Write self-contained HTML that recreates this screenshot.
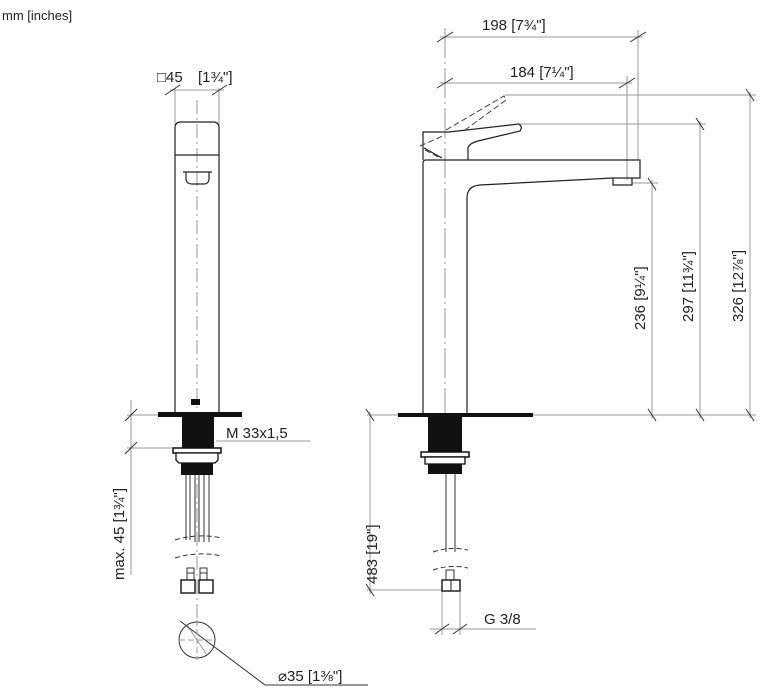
<!DOCTYPE html>
<html><head><meta charset="utf-8"><style>
html,body{margin:0;padding:0;background:#fff;}
svg{display:block;}
text{font-family:"Liberation Sans",sans-serif;fill:#222;}
</style></head><body>
<svg width="761" height="697" viewBox="0 0 761 697" xmlns="http://www.w3.org/2000/svg">
<text x="2" y="20" font-size="13">mm [inches]</text>

<!-- ===== LEFT VIEW ===== -->
<g stroke="#999" stroke-width="1" fill="none">
  <line x1="175" y1="88" x2="175" y2="125"/>
  <line x1="219" y1="88" x2="219" y2="125"/>
  <line x1="170" y1="90" x2="224" y2="90"/>
  <line x1="197" y1="100" x2="197" y2="620" stroke-dasharray="14,4,2,4"/>
  <line x1="127" y1="415" x2="158" y2="415"/>
  <line x1="127" y1="448" x2="176" y2="448"/>
  <line x1="131" y1="400" x2="131" y2="575"/>
  <line x1="216" y1="441" x2="310" y2="441"/>
</g>
<g stroke="#333" stroke-width="1">
  <line x1="165" y1="95" x2="180" y2="85"/>
  <line x1="212" y1="95" x2="227" y2="85"/>
  <line x1="125" y1="421" x2="137" y2="409"/>
  <line x1="125" y1="454" x2="137" y2="442"/>
</g>
<text x="157" y="82" font-size="15">□45</text>
<text x="198" y="82" font-size="15">[1¾"]</text>
<text x="226" y="438" font-size="15">M 33x1,5</text>
<text transform="translate(124,580) rotate(-90)" font-size="15">max. 45 [1¾"]</text>

<g stroke="#222" stroke-width="1.2" fill="none">
  <path d="M175,415 V128 Q175,122 181,122 H213 Q219,122 219,128 V415"/>
  <line x1="175" y1="155" x2="219" y2="155"/>
  <path d="M183,172 H212 M186,172 V180 Q187,184 192,184 H204 Q208,184 209,180 V172"/>
</g>
<rect x="191" y="399" width="9" height="6" fill="#111"/>
<rect x="158" y="412" width="84" height="5" fill="#111"/>
<rect x="182" y="417" width="32" height="31" fill="#111"/>
<rect x="173" y="448" width="48" height="5" fill="#fff" stroke="#111" stroke-width="1.5"/>
<path d="M176,453 H218 V460 L215,463 H179 L176,460 Z" fill="#fff" stroke="#111" stroke-width="1.3"/>
<rect x="181" y="463" width="32" height="12" fill="#111"/>
<g stroke="#333" stroke-width="1" fill="none">
  <line x1="186" y1="475" x2="186" y2="540"/><line x1="190" y1="475" x2="190" y2="540"/>
  <line x1="195" y1="475" x2="195" y2="542"/><line x1="199" y1="475" x2="199" y2="542"/>
  <line x1="204" y1="475" x2="204" y2="542"/><line x1="209" y1="475" x2="209" y2="542"/>
  <path d="M175,540 Q197,533 222,538" stroke-dasharray="5,3"/>
  <path d="M175,558 Q197,551 222,556" stroke-dasharray="5,3"/>
  <rect x="187" y="568" width="7" height="12"/><rect x="200" y="568" width="7" height="12"/>
  <line x1="187" y1="573" x2="194" y2="573"/><line x1="200" y1="573" x2="207" y2="573"/>
  <circle cx="197" cy="640" r="18"/>
  <line x1="187" y1="625" x2="207" y2="655" stroke="#999"/>
  <line x1="180" y1="621" x2="265" y2="685"/>
  <line x1="265" y1="685" x2="368" y2="685"/>
</g>
<rect x="181" y="580" width="14" height="13" fill="#fff" stroke="#222" stroke-width="1.5"/>
<rect x="199" y="580" width="14" height="13" fill="#fff" stroke="#222" stroke-width="1.5"/>
<g stroke="#999" stroke-width="1"><line x1="179" y1="640" x2="215" y2="640" stroke-dasharray="6,3"/><line x1="197" y1="620" x2="197" y2="660" stroke-dasharray="6,3"/></g>
<text x="278" y="681" font-size="15">⌀35 [1⅜"]</text>

<!-- ===== RIGHT VIEW ===== -->
<g stroke="#999" stroke-width="1" fill="none">
  <line x1="445" y1="28" x2="445" y2="420" stroke-dasharray="30,4,2,4"/>
  <line x1="638" y1="30" x2="638" y2="160"/>
  <line x1="627" y1="76" x2="627" y2="180"/>
  <line x1="440" y1="37" x2="643" y2="37"/>
  <line x1="440" y1="83" x2="632" y2="83"/>
  <line x1="505" y1="95" x2="756" y2="95"/>
  <line x1="520" y1="124" x2="706" y2="124"/>
  <line x1="632" y1="183" x2="658" y2="183"/>
  <line x1="367" y1="415" x2="756" y2="415"/>
  <line x1="652" y1="180" x2="652" y2="418"/>
  <line x1="700" y1="121" x2="700" y2="418"/>
  <line x1="750" y1="92" x2="750" y2="418"/>
  <line x1="370" y1="412" x2="370" y2="594"/>
  <line x1="367" y1="590" x2="446" y2="590"/>
  <line x1="442" y1="590" x2="442" y2="635"/>
  <line x1="460" y1="590" x2="460" y2="635"/>
  <line x1="430" y1="629" x2="536" y2="629"/>
</g>
<g stroke="#333" stroke-width="1">
  <line x1="437" y1="42" x2="453" y2="32"/><line x1="630" y1="42" x2="646" y2="32"/>
  <line x1="437" y1="88" x2="453" y2="78"/><line x1="619" y1="88" x2="635" y2="78"/>
  <line x1="648" y1="178" x2="656" y2="190"/><line x1="648" y1="409" x2="656" y2="421"/>
  <line x1="696" y1="118" x2="704" y2="130"/><line x1="696" y1="409" x2="704" y2="421"/>
  <line x1="746" y1="89" x2="754" y2="101"/><line x1="746" y1="409" x2="754" y2="421"/>
  <line x1="366" y1="409" x2="374" y2="421"/><line x1="366" y1="584" x2="374" y2="596"/>
  <line x1="435" y1="634" x2="449" y2="624"/><line x1="453" y1="634" x2="467" y2="624"/>
</g>
<text x="482" y="30" font-size="15">198 [7¾"]</text>
<text x="510" y="77" font-size="15">184 [7¼"]</text>
<text transform="translate(645,330) rotate(-90)" font-size="15">236 [9¼"]</text>
<text transform="translate(693,322) rotate(-90)" font-size="15">297 [11¾"]</text>
<text transform="translate(743,322) rotate(-90)" font-size="15">326 [12⅞"]</text>
<text transform="translate(377,584) rotate(-90)" font-size="15">483 [19"]</text>
<text x="484" y="624" font-size="15">G 3/8</text>

<g stroke="#222" stroke-width="1.2" fill="none">
  <path d="M423,415 V163 Q423,160 426,160 H640 V178 H613"/>
  <path d="M613,178 L480,185 Q467,186 467,198 V415"/>
  <path d="M613,178 V185 H632 V178"/>
  <path d="M423,160 V132 H449 L519,124 Q523,127 520,131 L478,141 Q467,144 468,150 V160"/>
  <path d="M424,148 L442,158"/>
</g>
<g stroke="#444" stroke-width="1" fill="none" stroke-dasharray="6,3">
  <path d="M446,130 L504,96 L506,100 L465,130"/>
  <path d="M420,146 L445,135 M425,150 L440,158"/>
</g>
<rect x="398" y="413" width="135" height="4" fill="#111"/>
<rect x="428" y="417" width="34" height="35" fill="#111"/>
<rect x="421" y="452" width="48" height="5" fill="#fff" stroke="#111" stroke-width="1.5"/>
<rect x="425" y="457" width="40" height="7" fill="#fff" stroke="#111" stroke-width="1.3"/>
<rect x="428" y="464" width="34" height="10" fill="#111"/>
<g stroke="#333" stroke-width="1" fill="none">
  <line x1="446" y1="474" x2="446" y2="552"/><line x1="455" y1="474" x2="455" y2="552"/>
  <path d="M433,552 Q450,546 468,550" stroke-dasharray="5,3"/>
  <path d="M433,570 Q450,564 468,568" stroke-dasharray="5,3"/>
  <rect x="446" y="570" width="8" height="10"/>
</g>
<rect x="442" y="580" width="18" height="11" fill="#fff" stroke="#222" stroke-width="1.5"/>
<line x1="451" y1="580" x2="451" y2="591" stroke="#222"/>
</svg>
</body></html>
